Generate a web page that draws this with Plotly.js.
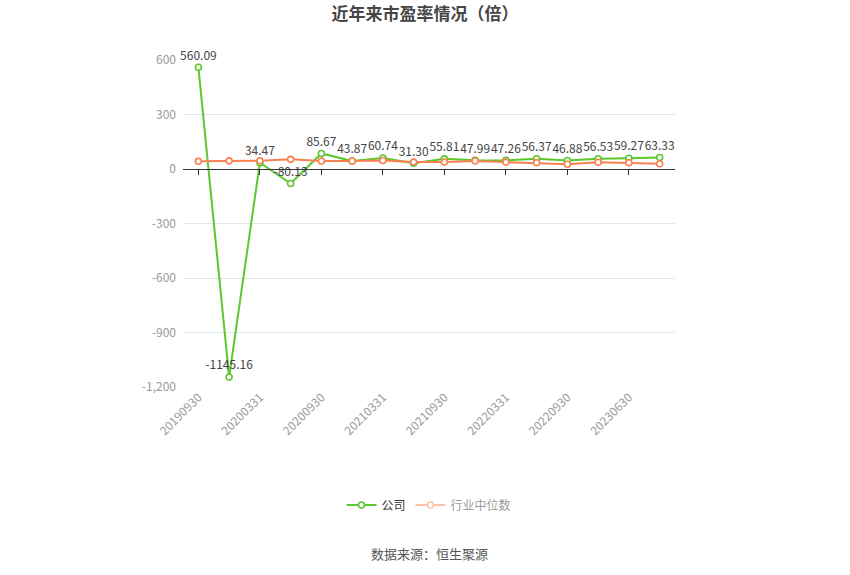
<!DOCTYPE html>
<html>
<head>
<meta charset="utf-8">
<script src="https://cdn.plot.ly/plotly-3.0.1.min.js"></script>
<style>html,body{margin:0;padding:0;background:#fff;}#chart{width:850px;height:575px;}</style>
</head>
<body>
<div id="chart"></div>
<script>
const categories = ["20190930","20191231","20200331","20200630","20200930","20201231","20210331","20210630","20210930","20211231","20220331","20220630","20220930","20221231","20230630","20230930"];
const companyPE = [560.09,-1145.16,34.47,-80.13,85.67,43.87,60.74,31.30,55.81,47.99,47.26,56.37,46.88,56.53,59.27,63.33];
const industryPE = [42,45,45,53,44,44,47,38,38,44,38,35,26,37,35,29];
const xTickCats = ["20190930","20200331","20200930","20210331","20210930","20220331","20220930","20230630"];
const yTickVals = [-1200,-900,-600,-300,0,300,600];
const yTickLabels = ["-1,200","-900","-600","-300","0","300","600"];

const green = "#5cc72e";
const orange = "#f98150";
const font = "'Noto Sans CJK SC','Noto Sans',sans-serif";

const traces = [
  {
    x: categories, y: companyPE, name: "公司", xaxis: "x", yaxis: "y",
    type: "scatter", mode: "lines+markers+text",
    text: companyPE.map(v => v.toFixed(2)),
    textposition: "top center",
    textfont: {size: 12, color: "#444", family: font},
    line: {color: green, width: 2},
    marker: {symbol: "circle", size: 6, color: "#fff", line: {color: green, width: 1.6}},
    cliponaxis: false, hoverinfo: "x+y"
  },
  {
    x: categories, y: industryPE, name: "行业中位数", xaxis: "x2", yaxis: "y",
    type: "scatter", mode: "lines+markers", showlegend: false,
    line: {color: orange, width: 2},
    marker: {symbol: "circle", size: 6, color: "#fff", line: {color: orange, width: 1.6}},
    cliponaxis: false
  },
  {
    x: categories, y: industryPE, name: "行业中位数", xaxis: "x2", yaxis: "y",
    type: "scatter", mode: "lines+markers", visible: "legendonly",
    line: {color: orange, width: 2},
    marker: {symbol: "circle", size: 6, color: "#fff", line: {color: orange, width: 1.6}}
  }
];

const layout = {
  width: 850, height: 575,
  margin: {l: 183, r: 175, t: 60, b: 188},
  paper_bgcolor: "#fff", plot_bgcolor: "#fff",
  font: {family: font, color: "#333"},
  title: {
    text: "<b>近年来市盈率情况（倍）</b>",
    x: 0.5, xanchor: "center", xref: "container",
    y: 1 - 14/575, yanchor: "middle", yref: "container",
    font: {size: 17, color: "#464646", family: font}
  },
  xaxis: {
    type: "category", categoryorder: "array", categoryarray: categories,
    range: [-0.5, 15.5], anchor: "free", position: 1200/1800,
    showline: true, linecolor: "#333", linewidth: 1,
    ticks: "outside", ticklen: 5, tickcolor: "#333",
    tickmode: "array", tickvals: xTickCats,
    showticklabels: false, showgrid: false, zeroline: false, fixedrange: true
  },
  xaxis2: {
    type: "category", categoryorder: "array", categoryarray: categories,
    overlaying: "x", anchor: "y", side: "bottom",
    range: [-0.5, 15.5],
    showline: false, ticks: "", showgrid: false, zeroline: false,
    tickmode: "array", tickvals: xTickCats, ticktext: xTickCats,
    tickangle: -45, tickfont: {size: 12, color: "#999", family: font}
  },
  yaxis: {
    range: [-1200, 600], tickmode: "array", tickvals: yTickVals, ticktext: yTickLabels,
    gridcolor: "#e0e6f1", gridwidth: 1, zeroline: false, showline: false, ticks: "",
    tickfont: {size: 12, color: "#999", family: font}, ticklabelstandoff: 6
  },
  legend: {
    orientation: "h", x: 0.5, xanchor: "center", y: (387-505)/327, yanchor: "middle",
    font: {size: 12, color: "#333", family: font}, itemwidth: 30, traceorder: "normal"
  },
  annotations: [
    {
      text: "数据来源：恒生聚源", xref: "paper", yref: "paper",
      x: 0.5, xanchor: "center", y: (387-553)/327, yanchor: "middle",
      showarrow: false, font: {size: 13, color: "#555", family: font}
    }
  ],
  showlegend: true
};

Plotly.newPlot("chart", traces, layout, {displayModeBar: false, staticPlot: false});
</script>
</body>
</html>
